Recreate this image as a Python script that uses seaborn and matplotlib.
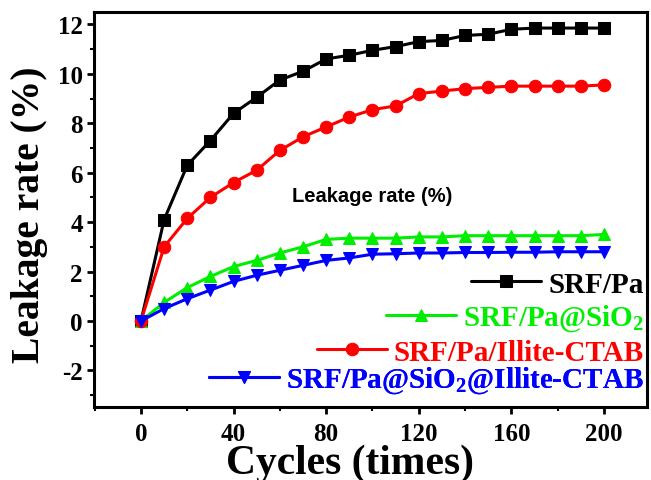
import numpy as np
import pandas as pd
import seaborn as sns
import matplotlib.pyplot as plt
from matplotlib.ticker import MultipleLocator

# Leakage data (cycles 0..200, step 10)
cycles = [0, 10, 20, 30, 40, 50, 60, 70, 80, 90, 100,
          110, 120, 130, 140, 150, 160, 170, 180, 190, 200]
srf_pa = [0, 4.1, 6.3, 7.3, 8.4, 9.05, 9.75, 10.1, 10.6, 10.75, 10.95,
          11.1, 11.3, 11.35, 11.55, 11.6, 11.8, 11.85, 11.85, 11.85, 11.85]
srf_pa_sio2 = [0, 0.75, 1.35, 1.8, 2.2, 2.45, 2.75, 3.0, 3.3, 3.35, 3.35,
               3.35, 3.4, 3.4, 3.45, 3.45, 3.45, 3.45, 3.45, 3.45, 3.5]
srf_pa_illite = [0, 3.0, 4.15, 5.0, 5.6, 6.1, 6.9, 7.45, 7.85, 8.25, 8.55,
                 8.7, 9.2, 9.3, 9.4, 9.45, 9.5, 9.5, 9.5, 9.5, 9.55]
srf_pa_sio2_illite = [0, 0.5, 0.9, 1.25, 1.6, 1.85, 2.05, 2.25, 2.45, 2.55, 2.7,
                      2.72, 2.75, 2.75, 2.77, 2.77, 2.78, 2.78, 2.8, 2.8, 2.8]

labels = ['SRF/Pa', r'SRF/Pa@SiO$_2$', 'SRF/Pa/Illite-CTAB',
          r'SRF/Pa@SiO$_2$@Illite-CTAB']
series = [srf_pa, srf_pa_sio2, srf_pa_illite, srf_pa_sio2_illite]
colors = ['black', '#00ee00', 'red', 'blue']
markers = ['s', '^', 'o', 'v']
# vertical placement of each legend row (axes fraction)
legend_rows = [0.311, 0.225, 0.139, 0.068]

sns.set_style("ticks")
plt.rcParams['font.family'] = ['Liberation Serif', 'DejaVu Serif']
plt.rcParams['font.weight'] = 'bold'
plt.rcParams['axes.unicode_minus'] = False
plt.rcParams['mathtext.fontset'] = 'custom'
plt.rcParams['mathtext.rm'] = 'Liberation Serif:bold'
plt.rcParams['mathtext.bf'] = 'Liberation Serif:bold'
plt.rcParams['mathtext.default'] = 'bf'
plt.rcParams['text.color'] = 'black'
plt.rcParams['axes.labelcolor'] = 'black'
plt.rcParams['xtick.color'] = 'black'
plt.rcParams['ytick.color'] = 'black'
plt.rcParams['axes.edgecolor'] = 'black'

fig = plt.figure(figsize=(6.51, 4.81), dpi=100)
ax = fig.add_axes([0.1444, 0.1518, 0.8495, 0.8212])

lines = []
for vals, lab, c, m in zip(series, labels, colors, markers):
    df = pd.DataFrame({'Cycles': cycles, 'Leakage': vals})
    sns.lineplot(data=df, x='Cycles', y='Leakage', color=c, marker=m,
                 markersize=9, markeredgecolor=c, linewidth=2.2, ax=ax)
    lines.append(ax.lines[-1])

ax.set_xlim(-20.3, 218.6)
ax.set_ylim(-3.48, 12.5)
ax.xaxis.set_major_locator(MultipleLocator(40))
ax.xaxis.set_minor_locator(MultipleLocator(20))
ax.yaxis.set_major_locator(MultipleLocator(2))
ax.yaxis.set_minor_locator(MultipleLocator(1))
ax.tick_params(which='major', direction='out', length=5, width=2,
               labelsize=18, pad=3)
ax.tick_params(axis='x', which='major', pad=6)
ax.tick_params(which='minor', direction='out', length=3, width=1.5)
for lbl in ax.get_xticklabels() + ax.get_yticklabels():
    lbl.set_fontweight('bold')
for sp in ax.spines.values():
    sp.set_linewidth(2.2)

ax.set_xlabel('Cycles (times)', fontsize=30, fontweight='bold')
ax.xaxis.set_label_coords(0.463, -0.14, transform=ax.transAxes)
ax.xaxis.label.set_va('center')
ax.set_ylabel('Leakage rate (%)', fontsize=28.5, fontweight='bold')
ax.yaxis.set_label_coords(-0.117, 0.49, transform=ax.transAxes)
ax.yaxis.label.set_va('center')

ax.text(99.8, 5.06, 'Leakage rate (%)', fontsize=14.5, fontweight='bold',
        family=['Liberation Sans', 'DejaVu Sans'], ha='center', va='center')

# one legend per row so every row is right-aligned as in the original
for ln, lab, c, yf in zip(lines, labels, colors, legend_rows):
    leg = ax.legend([ln], [lab], loc='center right', bbox_to_anchor=(1.0, yf),
                    frameon=False, fontsize=21, handlelength=2.4,
                    handletextpad=0.25, borderaxespad=0, borderpad=0.1)
    leg.get_texts()[0].set_color(c)
    ax.add_artist(leg)

fig.savefig('out.png', dpi=100)
